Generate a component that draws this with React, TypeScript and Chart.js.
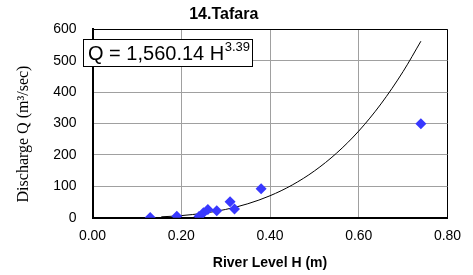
import { useEffect, useRef } from "react";
import { Chart, registerables } from "chart.js";

Chart.register(...registerables);

// Observed gauging data (river level H in m, discharge Q in m³/sec)
const levelH = [0.13, 0.19, 0.24, 0.25, 0.26, 0.28, 0.31, 0.32, 0.38, 0.74];
const dischargeQ = [1, 5, 4, 16, 26, 22, 51, 28, 92, 299];

// Rating curve
const curveH = [0.155, 0.18, 0.2, 0.25, 0.3, 0.35, 0.4, 0.45, 0.5, 0.55, 0.6, 0.65, 0.7, 0.74];
const curveQ = [2.8, 4.7, 6.7, 14.2, 26.3, 44.4, 69.9, 104.1, 148.8, 205.6, 276, 362.3, 465.7, 562];

const xTicks = [0, 0.2, 0.4, 0.6, 0.8];
const yTicks = [0, 100, 200, 300, 400, 500, 600];

const chartTitle = "14.Tafara";
const xTitle = "River Level H (m)";
const yTitle = "Discharge Q (m³/sec)";
const equationMain = "Q = 1,560.14 H";
const equationExp = "3.39";

const SANS = "'Liberation Sans', Arial, sans-serif";
const SERIF = "'Liberation Serif', 'Times New Roman', serif";

const overlayPlugin = {
  id: "overlay",
  afterDraw(chart: any) {
    const { ctx, chartArea } = chart;
    ctx.save();
    // Y axis title (serif, rotated)
    ctx.fillStyle = "#000";
    ctx.font = `16px ${SERIF}`;
    ctx.textAlign = "center";
    ctx.textBaseline = "middle";
    ctx.translate(24, 134);
    ctx.rotate(-Math.PI / 2);
    ctx.fillText(yTitle, 0, 0);
    ctx.restore();

    // Equation box
    ctx.save();
    const bx = chartArea.left - 9.5;
    const by = chartArea.top + 10;
    const bw = 169;
    const bh = 27;
    ctx.fillStyle = "#fff";
    ctx.fillRect(bx, by, bw, bh);
    ctx.strokeStyle = "#000";
    ctx.lineWidth = 1;
    ctx.strokeRect(Math.round(bx) + 0.5, Math.round(by) + 0.5, bw, bh);
    ctx.fillStyle = "#000";
    ctx.textAlign = "left";
    ctx.textBaseline = "alphabetic";
    ctx.font = `20px ${SANS}`;
    const tx = bx + 5;
    const base = by + 21;
    ctx.fillText(equationMain, tx, base);
    const w = ctx.measureText(equationMain).width;
    ctx.font = `13px ${SANS}`;
    ctx.fillText(equationExp, tx + w + 0.5, base - 9);
    ctx.restore();
  },
};

export default function App() {
  const ref = useRef<HTMLCanvasElement | null>(null);

  useEffect(() => {
    if (!ref.current) return;
    const tickFont = { family: SANS, size: 14 };
    const chart = new Chart(ref.current, {
      type: "scatter",
      data: {
        datasets: [
          {
            type: "line",
            label: "fit",
            data: curveH.map((h, i) => ({ x: h, y: curveQ[i] })),
            borderColor: "#000",
            borderWidth: 1,
            pointRadius: 0,
            fill: false,
            cubicInterpolationMode: "monotone",
            order: 2,
          } as any,
          {
            label: "observed",
            data: levelH.map((h, i) => ({ x: h, y: dischargeQ[i] })),
            pointStyle: "rectRot",
            pointRadius: 5.5,
            backgroundColor: "#3838ff",
            borderColor: "#3838ff",
            borderWidth: 0,
            order: 1,
          },
        ],
      },
      options: {
        animation: false,
        responsive: false,
        maintainAspectRatio: false,
        layout: { padding: { left: 0, right: 25.5, top: 0, bottom: 0 } },
        plugins: {
          legend: { display: false },
          tooltip: { enabled: false },
          title: {
            display: true,
            text: chartTitle,
            color: "#000",
            font: { family: SANS, size: 16, weight: "bold" },
            padding: { top: 5.4, bottom: 4.7 },
          },
        },
        scales: {
          x: {
            type: "linear",
            min: 0,
            max: 0.8,
            afterBuildTicks: (s: any) => {
              s.ticks = xTicks.map((v) => ({ value: v }));
            },
            afterFit: (s: any) => {
              s.height = 57.3;
            },
            ticks: {
              color: "#000",
              font: tickFont,
              padding: 10,
              maxRotation: 0,
              callback: (v: any) => Number(v).toFixed(2),
            },
            grid: {
              drawTicks: false,
              color: (c: any) => (c.tick && c.tick.value === 0.8 ? "#000" : "#a0a0a0"),
              lineWidth: 1,
            },
            border: { color: "#000", width: 2 },
            title: {
              display: true,
              text: xTitle,
              color: "#000",
              font: { family: SANS, size: 14, weight: "bold" },
              padding: { top: 0, bottom: 3.6 },
            },
          },
          y: {
            type: "linear",
            min: 0,
            max: 600,
            afterBuildTicks: (s: any) => {
              s.ticks = yTicks.map((v) => ({ value: v }));
            },
            afterFit: (s: any) => {
              s.width = 92.5;
            },
            ticks: {
              color: "#000",
              font: tickFont,
              padding: 16,
            },
            grid: {
              drawTicks: false,
              color: (c: any) => (c.tick && c.tick.value === 600 ? "#000" : "#a0a0a0"),
              lineWidth: 1,
            },
            border: { color: "#000", width: 2 },
          },
        },
      },
      plugins: [overlayPlugin],
    } as any);
    return () => chart.destroy();
  }, []);

  return (
    <div style={{ position: "absolute", left: 0, top: 0, width: 473, height: 275, background: "#fff" }}>
      <canvas ref={ref} width={473} height={275} style={{ display: "block" }} />
    </div>
  );
}
